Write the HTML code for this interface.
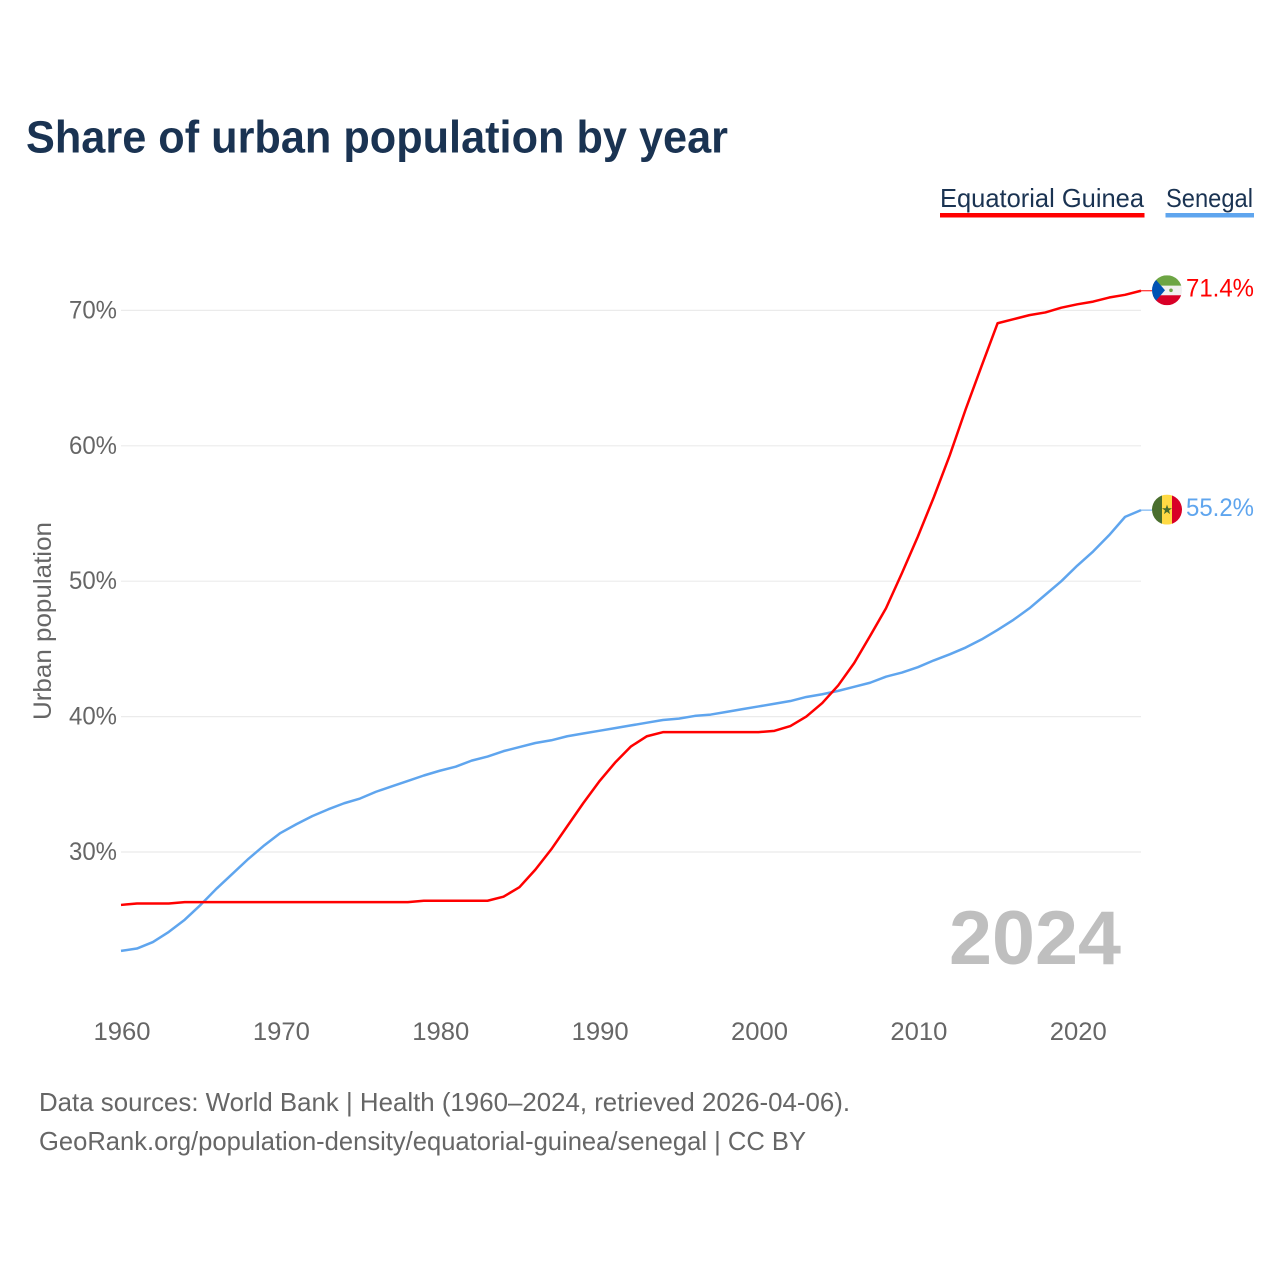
<!DOCTYPE html>
<html lang="en">
<head>
<meta charset="utf-8">
<title>Share of urban population by year</title>
<style>
html,body{margin:0;padding:0;background:#fff;}
svg{display:block;font-family:"Liberation Sans",Arial,sans-serif;}
</style>
</head>
<body>
<svg id="chart" xmlns="http://www.w3.org/2000/svg" width="1280" height="1280" viewBox="0 0 1280 1280">
  <defs>
    <clipPath id="flag-clip-a"><circle cx="0" cy="0" r="15"/></clipPath>
    <clipPath id="flag-clip-b"><circle cx="0" cy="0" r="15"/></clipPath>
  </defs>
  <rect x="0" y="0" width="1280" height="1280" fill="#fff"/>
  <text x="26" y="152.5" font-size="45" font-weight="700" fill="#1a3352" textLength="702" lengthAdjust="spacingAndGlyphs">Share of urban population by year</text>

  <g>
    <g>
      <text x="940" y="207" font-size="26" fill="#1a3352" textLength="204" lengthAdjust="spacingAndGlyphs">Equatorial Guinea</text>
      <rect x="940" y="213" width="204.5" height="4.5" fill="#ff0000"/>
    </g>
    <g>
      <text x="1166" y="207" font-size="26" fill="#1a3352" textLength="87" lengthAdjust="spacingAndGlyphs">Senegal</text>
      <rect x="1165.5" y="213" width="88.5" height="4.5" fill="#5fa5ee"/>
    </g>
  </g>

  <g id="grid"></g>
  <g id="yticks"></g>
  <g id="xticks"></g>
  <text transform="translate(51,621) rotate(-90)" text-anchor="middle" font-size="25" fill="#666666" textLength="198" lengthAdjust="spacingAndGlyphs">Urban population</text>

  <text x="949" y="964" font-size="76" font-weight="700" fill="#bfbfbf" textLength="172" lengthAdjust="spacingAndGlyphs">2024</text>

  <g id="series"></g>

  <g id="flag-gq" clip-path="url(#flag-clip-a)">
    <rect x="-15" y="-15" width="30" height="10.5" fill="#6da544"/>
    <rect x="-15" y="-4.5" width="30" height="10" fill="#f0f0f0"/>
    <rect x="-15" y="5" width="30" height="10" fill="#d80027"/>
    <polygon points="-15,-15 -15,15 -2,0" fill="#0052b4"/>
    <circle cx="4" cy="0" r="1.8" fill="#6da544"/>
  </g>
  <g id="flag-sn" clip-path="url(#flag-clip-b)">
    <rect x="-15" y="-15" width="10" height="30" fill="#496e2d"/>
    <rect x="-5" y="-15" width="10" height="30" fill="#ffda44"/>
    <rect x="5" y="-15" width="10" height="30" fill="#d80027"/>
    <polygon points="0,-5 1.3,-1.4 5,-1.4 2,0.9 3.1,4.5 0,2.3 -3.1,4.5 -2,0.9 -5,-1.4 -1.3,-1.4" fill="#496e2d"/>
  </g>
  <g id="endlabels"></g>

  <text x="39" y="1111" font-size="26" fill="#666666" textLength="811" lengthAdjust="spacingAndGlyphs">Data sources: World Bank | Health (1960–2024, retrieved 2026-04-06).</text>
  <text x="39" y="1150" font-size="26" fill="#666666" textLength="767" lengthAdjust="spacingAndGlyphs">GeoRank.org/population-density/equatorial-guinea/senegal | CC BY</text>
</svg>
<script>
const years = [1960,1961,1962,1963,1964,1965,1966,1967,1968,1969,1970,1971,1972,1973,1974,1975,1976,1977,1978,1979,1980,1981,1982,1983,1984,1985,1986,1987,1988,1989,1990,1991,1992,1993,1994,1995,1996,1997,1998,1999,2000,2001,2002,2003,2004,2005,2006,2007,2008,2009,2010,2011,2012,2013,2014,2015,2016,2017,2018,2019,2020,2021,2022,2023,2024];
const equatorialGuinea = [26.09,26.2,26.2,26.2,26.3,26.3,26.3,26.3,26.3,26.3,26.3,26.3,26.3,26.3,26.3,26.3,26.3,26.3,26.3,26.4,26.4,26.4,26.4,26.4,26.7,27.4,28.7,30.2,31.9,33.6,35.2,36.6,37.8,38.55,38.85,38.85,38.85,38.85,38.85,38.85,38.85,38.95,39.3,40,41,42.3,43.95,45.95,48,50.6,53.3,56.2,59.3,62.7,65.9,69.05,69.35,69.65,69.85,70.2,70.45,70.65,70.95,71.15,71.45];
const senegal = [22.7,22.87,23.35,24.1,25,26.1,27.3,28.4,29.5,30.5,31.4,32.05,32.65,33.15,33.6,33.95,34.45,34.85,35.25,35.65,36,36.3,36.75,37.05,37.45,37.75,38.05,38.25,38.55,38.75,38.95,39.15,39.35,39.55,39.75,39.85,40.05,40.15,40.35,40.55,40.75,40.95,41.15,41.45,41.65,41.9,42.2,42.5,42.95,43.25,43.65,44.15,44.6,45.1,45.7,46.4,47.15,48,49,50,51.15,52.2,53.4,54.75,55.25];
const yTickValues = [30,40,50,60,70];
const xTickValues = [1960,1970,1980,1990,2000,2010,2020];

const NS = 'http://www.w3.org/2000/svg';
const xScale = function (year) { return 121 + (year - 1960) * (1141 - 121) / 64; };
const yScale = function (value) { return 852 - (value - 30) * 13.54; };

const grid = document.getElementById('grid');
const yticks = document.getElementById('yticks');
const xticks = document.getElementById('xticks');
const series = document.getElementById('series');
const endlabels = document.getElementById('endlabels');

yTickValues.forEach(function (v) {
  const line = document.createElementNS(NS, 'line');
  
  
  line.setAttribute('x1', 121);
  line.setAttribute('x2', 1141);
  line.setAttribute('y1', yScale(v));
  line.setAttribute('y2', yScale(v));
  line.setAttribute('stroke', '#ebebeb');
  line.setAttribute('stroke-width', '1.2');
  grid.appendChild(line);

  const label = document.createElementNS(NS, 'text');
  
  
  label.setAttribute('x', 117);
  label.setAttribute('y', yScale(v) + 8);
  label.setAttribute('text-anchor', 'end');
  label.setAttribute('font-size', '25');
  label.setAttribute('fill', '#666666');
  label.setAttribute('textLength', '48');
  label.setAttribute('lengthAdjust', 'spacingAndGlyphs');
  label.textContent = v + '%';
  yticks.appendChild(label);
});

xTickValues.forEach(function (t) {
  const label = document.createElementNS(NS, 'text');
  
  
  label.setAttribute('x', xScale(t) + 1);
  label.setAttribute('y', 1040);
  label.setAttribute('text-anchor', 'middle');
  label.setAttribute('font-size', '25');
  label.setAttribute('fill', '#666666');
  label.setAttribute('textLength', '57');
  label.setAttribute('lengthAdjust', 'spacingAndGlyphs');
  label.textContent = t;
  xticks.appendChild(label);
});

function linePoints(values) {
  return values.map(function (v, i) {
    return xScale(years[i]).toFixed(2) + ',' + yScale(v).toFixed(2);
  }).join(' ');
}

const senegalLine = document.createElementNS(NS, 'polyline');


senegalLine.setAttribute('points', linePoints(senegal));
senegalLine.setAttribute('fill', 'none');
senegalLine.setAttribute('stroke', '#5fa5ee');
senegalLine.setAttribute('stroke-width', '2.5');
senegalLine.setAttribute('stroke-linejoin', 'round');
series.appendChild(senegalLine);

const guineaLine = document.createElementNS(NS, 'polyline');


guineaLine.setAttribute('points', linePoints(equatorialGuinea));
guineaLine.setAttribute('fill', 'none');
guineaLine.setAttribute('stroke', '#ff0000');
guineaLine.setAttribute('stroke-width', '2.5');
guineaLine.setAttribute('stroke-linejoin', 'round');
series.appendChild(guineaLine);

const lastGuinea = equatorialGuinea[equatorialGuinea.length - 1];
const lastSenegal = senegal[senegal.length - 1];

const connectorGuinea = document.createElementNS(NS, 'line');


connectorGuinea.setAttribute('x1', xScale(2024));
connectorGuinea.setAttribute('x2', 1152);
connectorGuinea.setAttribute('y1', yScale(lastGuinea));
connectorGuinea.setAttribute('y2', yScale(lastGuinea));
connectorGuinea.setAttribute('stroke', '#ff0000');
connectorGuinea.setAttribute('stroke-width', '1');
series.appendChild(connectorGuinea);

const connectorSenegal = document.createElementNS(NS, 'line');


connectorSenegal.setAttribute('x1', xScale(2024));
connectorSenegal.setAttribute('x2', 1152);
connectorSenegal.setAttribute('y1', yScale(lastSenegal));
connectorSenegal.setAttribute('y2', yScale(lastSenegal));
connectorSenegal.setAttribute('stroke', '#5fa5ee');
connectorSenegal.setAttribute('stroke-width', '1');
series.appendChild(connectorSenegal);

document.getElementById('flag-gq').setAttribute('transform', 'translate(1167,' + (yScale(lastGuinea) - 0.5) + ')');
document.getElementById('flag-sn').setAttribute('transform', 'translate(1167,' + (yScale(lastSenegal) - 0.5) + ')');

const guineaValue = document.createElementNS(NS, 'text');


guineaValue.setAttribute('x', 1254);
guineaValue.setAttribute('y', yScale(lastGuinea) + 5.5);
guineaValue.setAttribute('text-anchor', 'end');
guineaValue.setAttribute('font-size', '25');
guineaValue.setAttribute('fill', '#ff0000');
guineaValue.setAttribute('textLength', '68');
guineaValue.setAttribute('lengthAdjust', 'spacingAndGlyphs');
guineaValue.textContent = (Math.floor(lastGuinea * 10) / 10).toFixed(1) + '%';
endlabels.appendChild(guineaValue);

const senegalValue = document.createElementNS(NS, 'text');


senegalValue.setAttribute('x', 1254);
senegalValue.setAttribute('y', yScale(lastSenegal) + 6);
senegalValue.setAttribute('text-anchor', 'end');
senegalValue.setAttribute('font-size', '25');
senegalValue.setAttribute('fill', '#5fa5ee');
senegalValue.setAttribute('textLength', '68');
senegalValue.setAttribute('lengthAdjust', 'spacingAndGlyphs');
senegalValue.textContent = (Math.floor(lastSenegal * 10) / 10).toFixed(1) + '%';
endlabels.appendChild(senegalValue);
</script>
</body>
</html>
